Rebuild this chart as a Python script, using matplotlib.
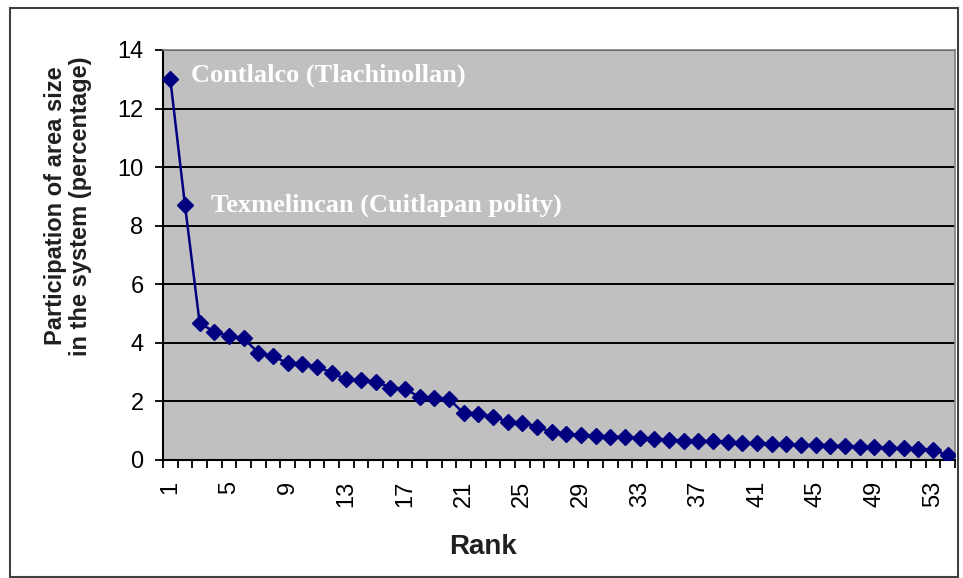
import matplotlib
matplotlib.use('Agg')
import matplotlib.pyplot as plt
from matplotlib.patches import Rectangle

# Rank-size data: share of the total settled area for each site (percent)
ranks = list(range(1, 55))
share = [13.0, 8.7, 4.67, 4.38, 4.23, 4.15, 3.66, 3.55, 3.30, 3.28,
         3.19, 2.98, 2.75, 2.72, 2.68, 2.47, 2.44, 2.14, 2.12, 2.08,
         1.60, 1.57, 1.48, 1.31, 1.27, 1.14, 0.95, 0.90, 0.85, 0.82,
         0.80, 0.78, 0.76, 0.72, 0.68, 0.66, 0.65, 0.64, 0.62, 0.59,
         0.57, 0.55, 0.54, 0.52, 0.50, 0.49, 0.47, 0.45, 0.43, 0.41,
         0.40, 0.38, 0.33, 0.18]
x_tick_labels = [str(r) for r in range(1, 54, 4)]
y_ticks = [0, 2, 4, 6, 8, 10, 12, 14]
annotated = [(0, 'Contlalco (Tlachinollan)', (15, 3)),
             (1, 'Texmelincan (Cuitlapan polity)', (19, 0))]

plt.rcParams['font.family'] = ['Liberation Sans', 'DejaVu Sans']

fig = plt.figure(figsize=(9.63, 5.78), dpi=100)
fig.patch.set_facecolor('white')
ax = fig.add_axes([163 / 963, 1 - 460 / 578, 792 / 963, 410 / 578])
ax.set_facecolor('#c0c0c0')

# Excel-like gridlines, drawn below the data
for y in y_ticks[1:]:
    ax.axhline(y, color='black', linewidth=1.4, zorder=1)

ax.plot(ranks, share, color='#000080', linewidth=1.8, marker='D',
        markersize=8.5, markerfacecolor='#000080', markeredgecolor='#000080',
        zorder=3)

for idx, name, offset in annotated:
    ax.annotate(name, xy=(ranks[idx], share[idx]), xytext=offset,
                textcoords='offset points', ha='left', va='center',
                color='white', fontsize=19, fontweight='bold',
                family=['Liberation Serif', 'DejaVu Serif'], zorder=4)

ax.set_xlim(0.5, 54.5)
ax.set_ylim(0, 14)

# Labels at category centres, tick marks between categories
ax.set_xticks(list(range(1, 54, 4)))
ax.set_xticklabels(x_tick_labels, rotation=90, fontsize=17)
ax.set_xticks([r + 0.5 for r in range(0, 55)], minor=True)
ax.tick_params(axis='x', which='major', length=0, pad=15)
ax.tick_params(axis='x', which='minor', length=6, width=1.3, direction='out')
ax.set_yticks(y_ticks)
ax.set_yticklabels([str(v) for v in y_ticks], fontsize=17)
ax.tick_params(axis='y', length=6, width=1.3, direction='out', pad=8)

for side in ['left', 'bottom']:
    ax.spines[side].set_color('black')
    ax.spines[side].set_linewidth(1.5)
for side in ['top', 'right']:
    ax.spines[side].set_color('#808080')
    ax.spines[side].set_linewidth(1.2)

fig.text(68 / 963, 1 - 206 / 578,
         'Participation of area size\nin the system (percentage)',
         rotation=90, ha='center', va='center', fontsize=17,
         fontweight='bold', multialignment='center', color='#202020',
         linespacing=1.1)
fig.text(483 / 963, 1 - 547 / 578, 'Rank', ha='center', va='center',
         fontsize=20, fontweight='bold', color='#202020')

# Chart border around the whole picture
fig.patches.append(Rectangle((10 / 963, 1.5 / 578), 948 / 963, 569 / 578,
                             transform=fig.transFigure, fill=False,
                             edgecolor='#404040', linewidth=1.5))

fig.savefig('out.png', dpi=100)
